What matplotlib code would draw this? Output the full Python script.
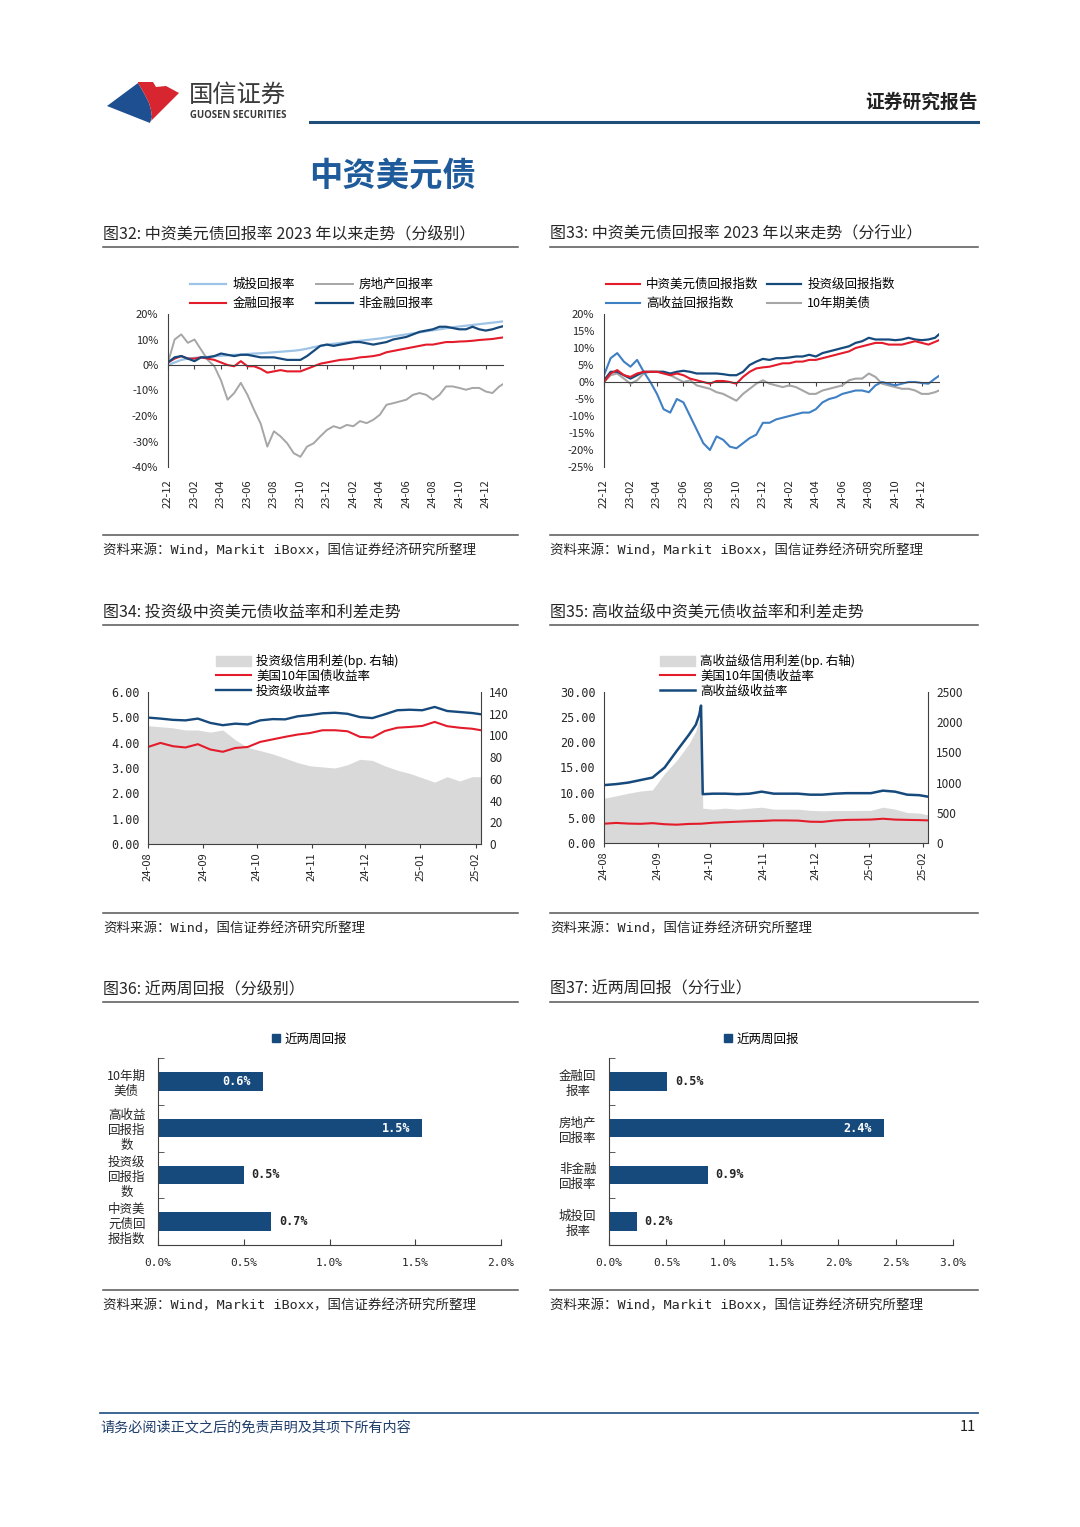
import numpy as np
import pandas as pd
import matplotlib
matplotlib.use('Agg')
import matplotlib.pyplot as plt
import matplotlib.dates as mdates
from matplotlib.lines import Line2D
from matplotlib.patches import Patch, Polygon

plt.rcParams['font.family'] = ['Noto Sans CJK SC', 'DejaVu Sans']
plt.rcParams['axes.unicode_minus'] = False

# ---------------------------------------------------------------- data
# Fig 32 / 33 : x = months since 2022-12 (half-month sampling)
months = np.append(np.arange(0, 25.5, 0.5), 25.3)
month_ticks = [0, 2, 4, 6, 8, 10, 12, 14, 16, 18, 20, 22, 24]
month_labels = ['22-12', '23-02', '23-04', '23-06', '23-08', '23-10', '23-12',
                '24-02', '24-04', '24-06', '24-08', '24-10', '24-12']

# Fig 32 (%)
chengtou = [0, 1.0, 2.0, 2.5, 2.8, 3.0, 3.2, 3.4, 3.6, 3.8,
            4.0, 4.1, 4.3, 4.5, 4.6, 4.8, 5.0, 5.2, 5.4, 5.6,
            5.9, 6.4, 7.0, 7.5, 8.0, 8.3, 8.6, 8.9, 9.2, 9.5,
            9.8, 10.1, 10.4, 10.8, 11.2, 11.6, 12.0, 12.4, 12.8, 13.2,
            13.6, 14.0, 14.4, 14.8, 15.1, 15.4, 15.7, 16.0, 16.3, 16.6,
            16.9, 17.1]
fangdichan = [1.0, 10.0, 12.0, 8.7, 10.0, 6.0, 2.0, -0.5, -6.0, -13.6,
              -11.0, -7.0, -11.7, -17.6, -23.0, -32.0, -26.0, -28.0, -30.7, -34.6,
              -36.0, -32.0, -30.7, -28.0, -25.5, -24.0, -24.8, -23.5, -24.0, -22.0,
              -22.8, -21.5, -19.5, -15.6, -15.0, -14.3, -13.6, -11.7, -11.0, -11.7,
              -13.6, -11.7, -8.4, -8.4, -9.0, -9.7, -9.0, -9.0, -10.4, -11.0,
              -8.5, -7.5]
jinrong = [1.0, 2.5, 3.5, 2.5, 2.5, 3.0, 2.5, 2.0, 1.0, 0.0,
           -0.5, 1.5, -0.5, -0.5, -1.5, -3.0, -2.5, -2.0, -2.5, -2.5,
           -2.5, -1.5, -0.5, 0.5, 1.0, 1.5, 2.0, 2.2, 2.5, 3.0,
           3.2, 3.5, 4.0, 5.0, 5.5, 6.0, 6.5, 7.0, 7.5, 8.0,
           8.0, 8.5, 9.0, 9.0, 9.2, 9.3, 9.5, 9.8, 10.0, 10.2,
           10.6, 10.8]
feijinrong = [1.0, 3.0, 3.5, 2.5, 1.5, 3.0, 3.0, 3.5, 4.5, 4.0,
              3.5, 4.0, 4.0, 3.5, 3.0, 3.0, 3.0, 2.5, 2.0, 2.0,
              2.0, 3.5, 5.5, 7.5, 8.0, 7.5, 8.0, 8.5, 9.0, 9.0,
              8.5, 8.0, 8.5, 9.0, 10.0, 10.5, 11.0, 12.0, 13.0, 13.5,
              14.0, 15.0, 15.0, 14.5, 14.0, 14.0, 15.0, 14.0, 13.5, 14.0,
              14.8, 15.2]

# Fig 33 (%)
zhongzi = [0, 2.5, 3.5, 2.0, 1.5, 2.5, 3.0, 3.0, 3.0, 2.5,
           2.0, 2.5, 2.0, 1.0, 0.5, 0.0, -0.5, 0.3, 0.3, 0.0,
           -0.5, 1.5, 3.0, 4.0, 4.3, 4.5, 5.0, 5.5, 5.5, 6.0,
           6.0, 6.5, 6.5, 7.0, 7.5, 8.0, 8.5, 9.0, 10.0, 10.5,
           11.0, 11.5, 11.5, 11.0, 11.0, 11.0, 11.5, 12.0, 11.5, 11.0,
           11.8, 12.3]
touziji = [0.5, 3.0, 3.0, 2.0, 1.0, 2.0, 3.0, 3.0, 3.0, 3.0,
           2.5, 3.0, 3.3, 3.0, 2.5, 2.5, 2.5, 2.5, 2.3, 2.0,
           2.0, 3.0, 5.0, 6.0, 6.8, 6.5, 7.0, 7.0, 7.2, 7.5,
           7.5, 8.0, 7.5, 8.5, 9.0, 9.5, 10.0, 10.5, 11.5, 12.0,
           13.0, 12.5, 12.5, 12.5, 12.3, 12.5, 13.0, 12.5, 12.3, 12.5,
           13.0, 14.0]
gaoshouyi = [2.0, 7.0, 8.5, 6.0, 4.5, 6.5, 3.0, 0.0, -3.5, -8.0,
             -9.0, -5.0, -6.0, -10.0, -14.0, -18.0, -20.0, -16.0, -17.0, -19.0,
             -19.5, -18.0, -16.5, -15.5, -12.0, -12.0, -11.0, -10.5, -10.0, -9.5,
             -9.0, -9.0, -8.0, -6.0, -5.0, -4.5, -3.5, -3.0, -2.5, -2.5,
             -3.0, -1.0, 0.0, -0.5, -1.0, -0.5, 0.0, 0.0, -0.3, -0.5,
             1.0, 1.8]
ust10_ret = [0, 2.0, 2.5, 1.0, -0.5, 0.5, 2.5, 3.0, 3.0, 3.0,
             2.0, 1.0, 0.0, 0.5, -1.0, -1.5, -2.0, -3.0, -3.5, -4.5,
             -5.5, -3.5, -2.0, -0.5, 0.5, -0.5, -1.0, -1.5, -1.0, -1.5,
             -2.5, -3.5, -3.5, -2.5, -2.0, -1.5, -1.0, 0.5, 1.0, 1.0,
             2.5, 1.5, -0.5, -1.0, -1.5, -2.0, -2.0, -2.5, -3.5, -3.5,
             -3.0, -2.5]

# Fig 34
dates34 = pd.to_datetime([
    '2024-08-01', '2024-08-08', '2024-08-15', '2024-08-22', '2024-08-29',
    '2024-09-05', '2024-09-12', '2024-09-19', '2024-09-26', '2024-10-03',
    '2024-10-10', '2024-10-17', '2024-10-24', '2024-10-31', '2024-11-07',
    '2024-11-14', '2024-11-21', '2024-11-28', '2024-12-05', '2024-12-12',
    '2024-12-19', '2024-12-26', '2025-01-02', '2025-01-09', '2025-01-16',
    '2025-01-23', '2025-01-30', '2025-02-04'])
ig_yield = [4.99, 4.95, 4.90, 4.88, 4.95, 4.78, 4.69, 4.75, 4.72, 4.88,
            4.93, 4.92, 5.04, 5.09, 5.16, 5.18, 5.14, 5.01, 4.97, 5.12,
            5.28, 5.30, 5.28, 5.41, 5.25, 5.21, 5.17, 5.12]
ust10_yield = [3.83, 3.99, 3.86, 3.81, 3.94, 3.73, 3.64, 3.79, 3.83, 4.03,
               4.13, 4.23, 4.32, 4.38, 4.49, 4.49, 4.45, 4.23, 4.20, 4.46,
               4.59, 4.62, 4.66, 4.82, 4.65, 4.59, 4.55, 4.49]
ig_spread = [109, 108, 107, 105, 105, 103, 105, 96, 89, 86,
             83, 79, 75, 72, 71, 70, 73, 78, 77, 72,
             68, 65, 61, 57, 62, 58, 62, 62]

# Fig 35
dates35 = pd.to_datetime([
    '2024-08-01', '2024-08-08', '2024-08-15', '2024-08-22', '2024-08-29',
    '2024-09-05', '2024-09-12', '2024-09-19', '2024-09-23', '2024-09-25',
    '2024-09-26', '2024-09-27', '2024-10-03', '2024-10-10', '2024-10-17',
    '2024-10-24', '2024-10-31', '2024-11-07', '2024-11-14', '2024-11-21',
    '2024-11-28', '2024-12-05', '2024-12-12', '2024-12-19', '2024-12-26',
    '2025-01-02', '2025-01-09', '2025-01-16', '2025-01-23', '2025-01-30',
    '2025-02-04'])
hy_yield = [11.5, 11.7, 12.0, 12.5, 13.0, 15.0, 18.3, 21.5, 23.5, 25.5,
            27.3, 9.7, 9.8, 9.8, 9.7, 9.8, 10.2, 9.8, 9.8, 9.8,
            9.6, 9.6, 9.8, 9.9, 9.9, 9.9, 10.4, 10.2, 9.6, 9.5, 9.2]
hy_spread = [742, 780, 824, 860, 880, 1150, 1370, 1640, 1850, 2050,
             2250, 577, 560, 577, 560, 577, 593, 560, 560, 560,
             540, 533, 538, 538, 538, 540, 593, 560, 505, 495, 467]

# Fig 36 / 37
cats36 = ['10年期\n美债', '高收益\n回报指\n数', '投资级\n回报指\n数', '中资美\n元债回\n报指数']
vals36 = [0.61, 1.54, 0.50, 0.66]
inside36 = [True, True, False, False]
cats37 = ['金融回\n报率', '房地产\n回报率', '非金融\n回报率', '城投回\n报率']
vals37 = [0.51, 2.40, 0.86, 0.24]
inside37 = [False, True, False, False]

# ---------------------------------------------------------------- styles
RED = '#e31b2b'
NAVY = '#174a7c'
LBLUE = '#9dc3e6'
MBLUE = '#3f7fc4'
GRAY = '#a6a6a6'
AREA = '#d9d9d9'
AX = '#404040'
TXT = '#262626'
MONO = ['DejaVu Sans Mono', 'Noto Sans CJK SC']

W, H = 1080, 1527
fig = plt.figure(figsize=(W / 100, H / 100), dpi=100)
fig.patch.set_facecolor('white')


def box(l, t, r, b):
    return [l / W, 1 - b / H, (r - l) / W, (b - t) / H]


def ftext(x, y, s, **kw):
    fig.text(x / W, 1 - y / H, s, **kw)


def hline(x0, x1, y, color, lw):
    fig.add_artist(Line2D([x0 / W, x1 / W], [1 - y / H, 1 - y / H], color=color,
                          lw=lw, transform=fig.transFigure))


# ---------------------------------------------------------------- header
curve = [(138, 83), (141, 88), (145, 95), (149, 103), (151, 110), (152, 117), (150, 123)]
blue_pts = [(107, 106)] + curve
red_pts = [(138, 82), (153, 82), (156, 87), (166, 86), (179, 93), (151, 121)] + curve[::-1][1:]
for pts, c in [(blue_pts, '#1d4f91'), (red_pts, '#d7262f')]:
    fig.add_artist(Polygon([(x / W, 1 - y / H) for x, y in pts], closed=True,
                           transform=fig.transFigure, facecolor=c, edgecolor='none'))
ftext(189, 95, '国信证券', fontsize=17.5, fontweight='medium', color='#3a3a3a',
      va='center', ha='left')
ftext(190, 116, 'GUOSEN SECURITIES', fontsize=6.9, fontweight='bold', color='#3a3a3a',
      va='center', ha='left', family=['Open Sans', 'DejaVu Sans'])
ftext(978, 102, '证券研究报告', fontsize=13.5, fontweight='bold', color='#222222',
      ha='right', va='center')
hline(310, 978, 122, '#1f4e79', 2.2)
ftext(309, 176, '中资美元债', fontsize=24, fontweight='bold', color='#1f5b9a', va='center')

# section titles / sources
titles = [
    (103, 234, '图32: 中资美元债回报率 2023 年以来走势（分级别）'),
    (550, 234, '图33: 中资美元债回报率 2023 年以来走势（分行业）'),
    (103, 612, '图34: 投资级中资美元债收益率和利差走势'),
    (550, 612, '图35: 高收益级中资美元债收益率和利差走势'),
    (103, 989, '图36: 近两周回报（分级别）'),
    (550, 989, '图37: 近两周回报（分行业）'),
]
for x, y, s in titles:
    ftext(x, y, s, fontsize=11.5, color=TXT, va='center', ha='left')
for y in [247, 625, 1002, 535, 913, 1290]:
    hline(103, 518, y, '#555555', 1.1)
    hline(550, 978, y, '#555555', 1.1)
src_a = '资料来源：Wind，Markit iBoxx，国信证券经济研究所整理'
src_b = '资料来源：Wind，国信证券经济研究所整理'
for x, y, s in [(103, 551, src_a), (550, 551, src_a), (103, 929, src_b),
                (550, 929, src_b), (103, 1306, src_a), (550, 1306, src_a)]:
    ftext(x, y, s, fontsize=9.7, color=TXT, va='center', ha='left', family=MONO)

# footer
hline(100, 978, 1413, '#2e5a88', 1.3)
ftext(100, 1427, '请务必阅读正文之后的免责声明及其项下所有内容', fontsize=10.2,
      color='#1f3d6b', va='center', ha='left', style='italic')
ftext(976, 1427, '11', fontsize=10.5, color='#222222', va='center', ha='right')


# ---------------------------------------------------------------- line charts
def line_axes(rect, ylim, yticks):
    ax = fig.add_axes(box(*rect))
    ax.set_ylim(*ylim)
    ax.set_xlim(months[0], months[-1])
    for s in ['top', 'right']:
        ax.spines[s].set_visible(False)
    ax.spines['left'].set_color(AX)
    ax.spines['bottom'].set_position(('data', 0))
    ax.spines['bottom'].set_color(AX)
    ax.set_yticks(yticks, [f'{v}%' for v in yticks])
    ax.tick_params(axis='y', length=0, pad=7, labelsize=8, labelcolor=TXT)
    ax.set_xticks(month_ticks)
    ax.tick_params(axis='x', direction='out', length=3, color=AX, labelbottom=False)
    sec = ax.secondary_xaxis('bottom')
    sec.set_xticks(month_ticks, month_labels, rotation=90)
    sec.spines['bottom'].set_visible(False)
    sec.tick_params(length=0, pad=9, labelsize=8, labelcolor=TXT)
    ax.patch.set_visible(False)
    return ax


# Fig 32
ax = line_axes((168, 314, 503, 467), (-40, 20), list(range(-40, 21, 10)))
h_fdc, = ax.plot(months, fangdichan, color=GRAY, lw=1.4)
h_ct, = ax.plot(months, chengtou, color=LBLUE, lw=1.6)
h_jr, = ax.plot(months, jinrong, color=RED, lw=1.5)
h_fjr, = ax.plot(months, feijinrong, color=NAVY, lw=1.6)
fig.legend([h_ct, h_jr, h_fdc, h_fjr], ['城投回报率', '金融回报率', '房地产回报率', '非金融回报率'],
           loc='upper left', bbox_to_anchor=(190 / W, 1 - 278 / H), ncol=2, frameon=False,
           fontsize=9, handlelength=2.9, handletextpad=0.5, columnspacing=1.7,
           labelspacing=0.5, borderpad=0, borderaxespad=0)

# Fig 33
ax = line_axes((604, 314, 939, 467), (-25, 20), list(range(-25, 21, 5)))
h_us, = ax.plot(months, ust10_ret, color=GRAY, lw=1.5)
h_hy, = ax.plot(months, gaoshouyi, color=MBLUE, lw=1.5)
h_ig, = ax.plot(months, touziji, color=NAVY, lw=1.6)
h_zz, = ax.plot(months, zhongzi, color=RED, lw=1.5)
fig.legend([h_zz, h_hy, h_ig, h_us], ['中资美元债回报指数', '高收益回报指数', '投资级回报指数', '10年期美债'],
           loc='upper left', bbox_to_anchor=(606 / W, 1 - 278 / H), ncol=2, frameon=False,
           fontsize=9, handlelength=2.7, handletextpad=0.5, columnspacing=0.7,
           labelspacing=0.5, borderpad=0, borderaxespad=0)


# ---------------------------------------------------------------- dual axis charts
def dual_axes(rect, d_area, area, lines, ylim, ystep, y2lim, y2step):
    ax = fig.add_axes(box(*rect))
    ax2 = ax.twinx()
    ax2.fill_between(d_area, 0, area, color=AREA, lw=0)
    ax2.set_ylim(*y2lim)
    t2 = np.arange(y2lim[0], y2lim[1] + 1, y2step)
    ax2.set_yticks(t2, [f'{int(v)}' for v in t2])
    handles = []
    for d, vals, c, lw in lines:
        h, = ax.plot(d, vals, color=c, lw=lw)
        handles.append(h)
    ax.set_ylim(*ylim)
    t1 = np.arange(ylim[0], ylim[1] + 0.01, ystep)
    ax.set_yticks(t1, [f'{v:.2f}' for v in t1])
    ax.set_xlim(pd.Timestamp('2024-08-01'), pd.Timestamp('2025-02-04'))
    ax.xaxis.set_major_locator(mdates.MonthLocator())
    ax.xaxis.set_major_formatter(mdates.DateFormatter('%y-%m'))
    ax.tick_params(axis='x', direction='out', length=3, color=AX, labelrotation=90,
                   labelsize=8, labelcolor=TXT, pad=3)
    ax.tick_params(axis='y', length=0, pad=6, labelsize=8.5, labelcolor=TXT)
    ax2.tick_params(axis='y', length=0, pad=6, labelsize=8.5, labelcolor=TXT)
    for a in (ax, ax2):
        a.spines['top'].set_visible(False)
    ax.spines['right'].set_visible(False)
    ax2.spines['left'].set_visible(False)
    ax2.spines['bottom'].set_visible(False)
    for s in ['left', 'bottom']:
        ax.spines[s].set_color(AX)
    ax2.spines['right'].set_color(AX)
    for t in ax.get_yticklabels():
        t.set_family(MONO)
    ax.set_zorder(ax2.get_zorder() + 1)
    ax.patch.set_visible(False)
    return handles


# Fig 34
hs = dual_axes((148, 692, 481, 844), dates34, ig_spread,
               [(dates34, ust10_yield, RED, 1.5), (dates34, ig_yield, NAVY, 1.7)],
               (0, 6), 1, (0, 140), 20)
fig.legend([Patch(color=AREA)] + hs, ['投资级信用利差(bp. 右轴)', '美国10年国债收益率', '投资级收益率'],
           loc='upper left', bbox_to_anchor=(216 / W, 1 - 654 / H), frameon=False, fontsize=9,
           handlelength=2.8, handleheight=0.9, handletextpad=0.4, labelspacing=0.15,
           borderpad=0, borderaxespad=0)

# Fig 35
hs = dual_axes((604, 692, 928, 843), dates35, hy_spread,
               [(dates34, ust10_yield, RED, 1.5), (dates35, hy_yield, NAVY, 1.8)],
               (0, 30), 5, (0, 2500), 500)
fig.legend([Patch(color=AREA)] + hs, ['高收益级信用利差(bp. 右轴)', '美国10年国债收益率', '高收益级收益率'],
           loc='upper left', bbox_to_anchor=(660 / W, 1 - 654 / H), frameon=False, fontsize=9,
           handlelength=2.8, handleheight=0.9, handletextpad=0.4, labelspacing=0.15,
           borderpad=0, borderaxespad=0)


# ---------------------------------------------------------------- bar charts
def bar_axes(rect, cats, vals, inside, xmax, leg_x):
    ax = fig.add_axes(box(*rect))
    y = np.arange(len(cats))
    ax.barh(y, vals, height=0.4, color=NAVY)
    ax.set_ylim(len(cats) - 0.5, -0.5)
    ax.set_xlim(0, xmax)
    ax.set_yticks(y, cats)
    for t in ax.get_yticklabels():
        t.set_multialignment('center')
        t.set_linespacing(1.2)
    ax.set_yticks(np.arange(-0.5, len(cats), 1), minor=True)
    ax.tick_params(axis='y', which='major', length=0, pad=9, labelsize=9, labelcolor=TXT)
    ax.tick_params(axis='y', which='minor', direction='in', length=4, color=AX)
    xt = np.arange(0, xmax + 0.01, 0.5)
    ax.set_xticks(xt, [f'{v:.1f}%' for v in xt])
    ax.tick_params(axis='x', direction='in', length=4, color=AX, pad=9, labelsize=8,
                   labelcolor=TXT)
    for t in ax.get_xticklabels():
        t.set_family(MONO)
    for s in ['top', 'right']:
        ax.spines[s].set_visible(False)
    for s in ['left', 'bottom']:
        ax.spines[s].set_color(AX)
    for yi, v, ins in zip(y, vals, inside):
        s = f'{v:.1f}%'
        if ins:
            ax.annotate(s, (v, yi), xytext=(-12, 0), textcoords='offset pixels',
                        ha='right', va='center', color='white', fontsize=8.5,
                        fontweight='bold', family=MONO)
        else:
            ax.annotate(s, (v, yi), xytext=(8, 0), textcoords='offset pixels',
                        ha='left', va='center', color=TXT, fontsize=8.5,
                        fontweight='bold', family=MONO)
    fig.legend([Patch(color=NAVY)], ['近两周回报'], loc='center left',
               bbox_to_anchor=(leg_x / W, 1 - 1039 / H), frameon=False, fontsize=9,
               handlelength=0.6, handleheight=0.6, handletextpad=0.4,
               borderpad=0, borderaxespad=0)


bar_axes((158, 1058, 501, 1245), cats36, vals36, inside36, 2.0, 272)
bar_axes((609, 1058, 953, 1245), cats37, vals37, inside37, 3.0, 724)

fig.savefig('out.png', dpi=100, facecolor='white')
